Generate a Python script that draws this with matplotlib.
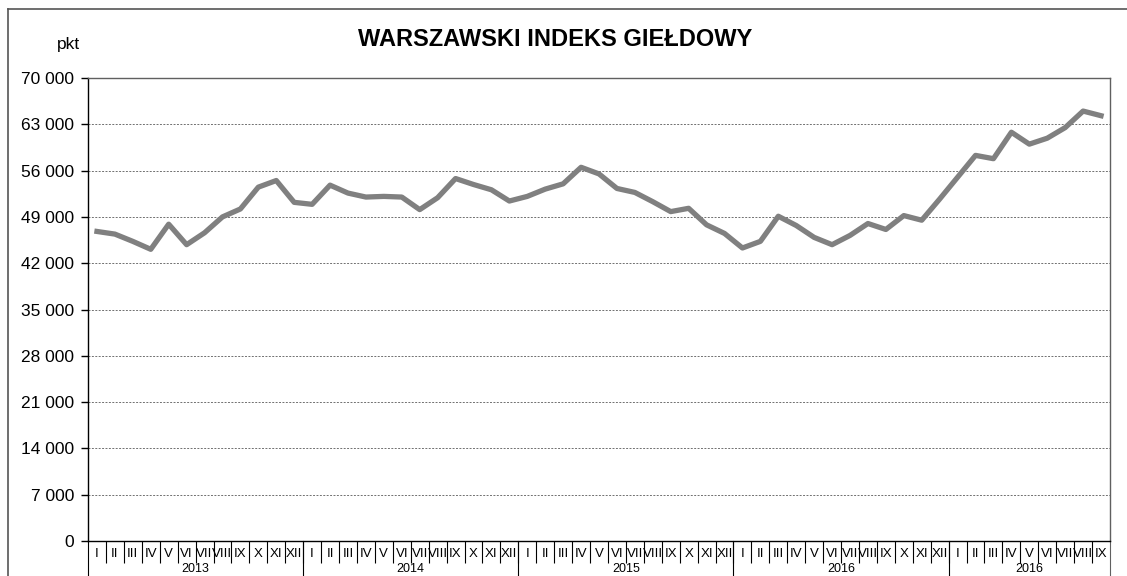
import matplotlib
matplotlib.use("Agg")
from matplotlib import pyplot as plt
from matplotlib.lines import Line2D
import matplotlib.transforms as mtransforms

plt.rcParams['font.family'] = ['Liberation Sans', 'DejaVu Sans']

months = ["I", "II", "III", "IV", "V", "VI", "VII", "VIII", "IX", "X", "XI", "XII"]
years = ["2013", "2014", "2015", "2016", "2016"]
months_per_year = [12, 12, 12, 12, 9]

wig = [
    46.8, 46.4, 45.3, 44.1, 47.9, 44.8, 46.6, 49.0, 50.2, 53.5, 54.5, 51.2,
    50.9, 53.8, 52.6, 52.0, 52.1, 52.0, 50.1, 51.9, 54.8, 53.9, 53.1, 51.4,
    52.1, 53.2, 54.0, 56.5, 55.5, 53.3, 52.7, 51.3, 49.8, 50.3, 47.8, 46.5,
    44.3, 45.3, 49.1, 47.7, 45.9, 44.8, 46.2, 48.0, 47.1, 49.2, 48.5, 51.7,
    55.0, 58.3, 57.8, 61.8, 60.0, 60.9, 62.5, 65.0, 64.3,
]
wig = [v * 1000 for v in wig]

month_labels = []
for n in months_per_year:
    month_labels += months[:n]

fig = plt.figure(figsize=(11.27, 5.76), dpi=100)
W, H = 1127, 576
ax = fig.add_axes([88 / W, 1 - 541 / H, (1110 - 88) / W, (541 - 78) / H])

x = list(range(len(wig)))
ax.plot(x, wig, color="#808080", lw=3.8, solid_joinstyle="round", zorder=3)

ax.set_xlim(-0.5, len(wig) - 0.5)
ax.set_ylim(0, 70000)
yt = list(range(0, 70001, 7000))
ax.set_yticks(yt)
ax.set_yticklabels([f"{v:,}".replace(",", " ") for v in yt], fontsize=12.5)
ax.tick_params(axis="y", length=5, width=1, direction="out", pad=5)
for v in yt[1:-1]:
    ax.axhline(v, color="#707070", lw=0.7, ls=(0, (2, 1.5)), zorder=1)

# month labels at category centres, separators at boundaries
ax.set_xticks(x)
ax.set_xticklabels(month_labels, fontsize=9.5)
ax.tick_params(axis="x", length=0, pad=5)
ax.set_xticks([i - 0.5 for i in range(1, len(wig))], minor=True)
ax.tick_params(axis="x", which="minor", length=16, width=0.8, direction="out")

trans = mtransforms.blended_transform_factory(ax.transData, ax.transAxes)
pos = 0
for yr, n in zip(years, months_per_year):
    ax.plot([pos - 0.5, pos - 0.5], [0, -0.1], color="black", lw=0.8,
            transform=trans, clip_on=False)
    ax.text(pos - 0.5 + n / 2, -(575 - 541) / 463, yr, transform=trans,
            ha="center", va="bottom", fontsize=9)
    pos += n
ax.plot([pos - 0.5, pos - 0.5], [0, -0.1], color="#606060", lw=0.8,
        transform=trans, clip_on=False)

for s in ["left", "bottom"]:
    ax.spines[s].set_color("black")
    ax.spines[s].set_linewidth(1)
for s in ["top", "right"]:
    ax.spines[s].set_color("#606060")
    ax.spines[s].set_linewidth(1)

fig.text(555 / W, 1 - 40 / H, "WARSZAWSKI INDEKS GIEŁDOWY", ha="center",
         va="center", fontsize=17, fontweight="bold")
fig.text(68 / W, 1 - 45 / H, "pkt", ha="center", va="center", fontsize=12.5)

# outer frame
fig.add_artist(Line2D([8 / W, 1], [1 - 9 / H, 1 - 9 / H], color="#555555", lw=1.2))
fig.add_artist(Line2D([8 / W, 8 / W], [0, 1 - 9 / H], color="#555555", lw=1.2))

fig.savefig("out.png", dpi=100)
